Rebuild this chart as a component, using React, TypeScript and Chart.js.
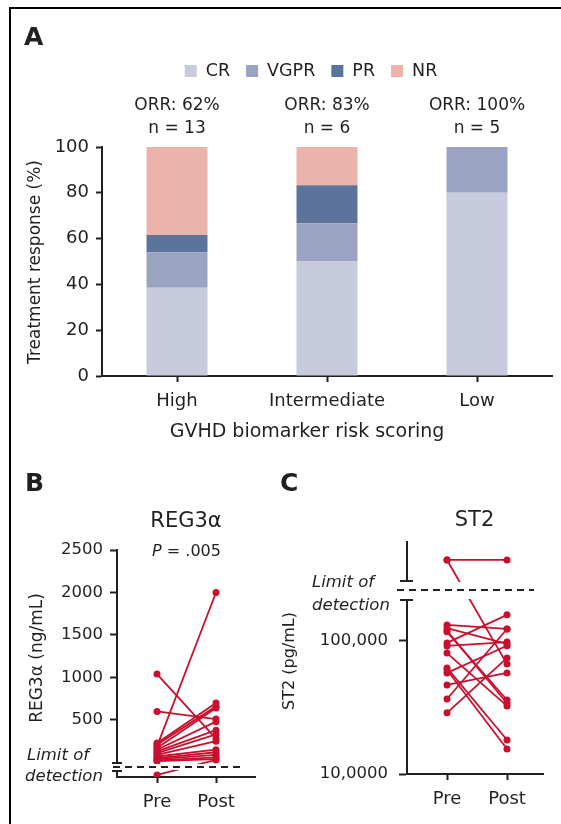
import React, { useEffect, useRef } from "react";
import { Chart, registerables } from "chart.js";
Chart.register(...registerables);

const FONT = "'DejaVu Sans', sans-serif";
const INK = "#231f20";
const RED = "#c8102e";

// ---------- Panel A data ----------
const riskGroups = ["High", "Intermediate", "Low"];
const responseNames = ["CR", "VGPR", "PR", "NR"];
const responseColors = ["#c8cbdd", "#9aa3c1", "#5c749c", "#ebb3a9"];
const crPct = [38.5, 50.0, 80.0];
const vgprPct = [15.4, 16.7, 20.0];
const prPct = [7.7, 16.6, 0];
const nrPct = [38.4, 16.7, 0];
const orrText = ["ORR: 62%", "ORR: 83%", "ORR: 100%"];
const nText = ["n = 13", "n = 6", "n = 5"];
const pctTicks = [0, 20, 40, 60, 80, 100];

// ---------- Panel B data (REG3α, ng/mL) ----------
const timepoints = ["Pre", "Post"];
const reg3Pre = [1040, 600, 190, 230, 210, 170, 150, 130, 110, 90, 70, 50, 40, 25, 15, -147];
const reg3Post = [280, 510, 2000, 700, 660, 640, 480, 380, 330, 250, 150, 120, 90, 60, 40, 30];
const reg3Ticks = [500, 1000, 1500, 2000, 2500];
const reg3Min = -171;
const reg3Max = 2500;
const reg3BreakTop = -6;
const reg3BreakBottom = -100;
const reg3Lod = -53;

// ---------- Panel C data (ST2, pg/mL) ----------
const st2Pre = [406000, 406000, 132000, 125000, 119000, 117000, 96600, 91700, 81000, 62700, 60500, 57500, 46700, 36600, 28800];
const st2Post = [406000, 67000, 123000, 95000, 34000, 36000, 157000, 98000, 32500, 18000, 15400, 92000, 57500, 123000, 74500];
const st2Ticks = [10000, 100000];
const st2TickLabels = ["10,0000", "100,000"];
const st2Min = 10000;
const st2Max = 554000;
const st2BreakTop = 282500;
const st2BreakBottom = 203000;
const st2Lod = 241600;

type TextItem = {
  parts: { text: string; style?: string }[];
  x: number;
  y: number;
  size: number;
  weight?: string;
  align?: "left" | "center" | "right";
  rotate?: number;
};

function fontStr(size: number, weight = "normal", style = "normal") {
  return `${style} ${weight} ${size}px ${FONT}`;
}

function textPlugin(getItems: (chart: any) => TextItem[]) {
  return {
    id: "texts",
    afterDraw(chart: any) {
      const ctx = chart.ctx;
      for (const it of getItems(chart)) {
        ctx.save();
        ctx.fillStyle = INK;
        ctx.textBaseline = "middle";
        ctx.textAlign = "left";
        ctx.translate(it.x, it.y);
        if (it.rotate) ctx.rotate(it.rotate);
        let total = 0;
        const widths = it.parts.map((p) => {
          ctx.font = fontStr(it.size, it.weight, p.style);
          const w = ctx.measureText(p.text).width;
          total += w;
          return w;
        });
        let x = it.align === "left" ? 0 : it.align === "right" ? -total : -total / 2;
        it.parts.forEach((p, i) => {
          ctx.font = fontStr(it.size, it.weight, p.style);
          ctx.fillText(p.text, x, 0);
          x += widths[i];
        });
        ctx.restore();
      }
    },
  };
}

const t = (text: string, x: number, y: number, size: number, extra: Partial<TextItem> = {}): TextItem => ({
  parts: [{ text }],
  x,
  y,
  size,
  ...extra,
});

const legendPlugin = {
  id: "customLegend",
  afterDraw(chart: any) {
    const ctx = chart.ctx;
    const size = 17.5;
    ctx.save();
    ctx.font = fontStr(size);
    const box = 12;
    const gapBox = 9;
    const gapItem = 16;
    const ds = chart.data.datasets;
    const widths = ds.map((d: any) => ctx.measureText(d.label).width);
    const total = widths.reduce((a: number, w: number) => a + box + gapBox + w, 0) + gapItem * (ds.length - 1);
    let x = 311 - total / 2;
    const cy = 71;
    ctx.textBaseline = "middle";
    ctx.textAlign = "left";
    ds.forEach((d: any, i: number) => {
      ctx.fillStyle = d.backgroundColor;
      ctx.fillRect(x, cy - box / 2, box, box);
      x += box + gapBox;
      ctx.fillStyle = INK;
      ctx.fillText(d.label, x, cy);
      x += widths[i] + gapItem;
    });
    ctx.restore();
  },
};

function breakPlugin(opts: {
  top: number;
  bottom: number;
  lod: number;
  tickX0: number;
  tickX1: number;
  dashX0: number;
  dashX1: number;
}) {
  return {
    id: "axisBreak",
    afterDatasetsDraw(chart: any) {
      const { ctx, chartArea } = chart;
      const y = chart.scales.y;
      const yTop = y.getPixelForValue(opts.top);
      const yBot = y.getPixelForValue(opts.bottom);
      const yLod = y.getPixelForValue(opts.lod);
      ctx.save();
      ctx.fillStyle = "#ffffff";
      ctx.fillRect(chartArea.left - 3, yTop + 1, chartArea.right - chartArea.left + 6, yBot - yTop - 2);
      ctx.strokeStyle = INK;
      ctx.lineWidth = 2;
      ctx.beginPath();
      ctx.moveTo(opts.tickX0, yTop);
      ctx.lineTo(opts.tickX1, yTop);
      ctx.moveTo(opts.tickX0, yBot);
      ctx.lineTo(opts.tickX1, yBot);
      ctx.stroke();
      ctx.setLineDash([7, 5]);
      ctx.beginPath();
      ctx.moveTo(opts.dashX0, yLod);
      ctx.lineTo(opts.dashX1, yLod);
      ctx.stroke();
      ctx.restore();
    },
  };
}

function pairedDatasets(pre: number[], post: number[]) {
  return pre.map((v, i) => ({
    label: "s" + i,
    data: [
      { x: 1, y: v },
      { x: 2, y: post[i] },
    ],
    borderColor: RED,
    backgroundColor: RED,
    borderWidth: 1.8,
    pointRadius: 3.5,
    pointBorderWidth: 0,
    pointBackgroundColor: RED,
    tension: 0,
  }));
}

const axisCommon = (tickLength: number) => ({
  grid: { display: true, drawOnChartArea: false, offset: false, tickLength, tickWidth: 2, tickColor: INK },
  border: { display: true, color: INK, width: 2 },
});

export default function App() {
  const aRef = useRef<HTMLCanvasElement>(null);
  const bRef = useRef<HTMLCanvasElement>(null);
  const cRef = useRef<HTMLCanvasElement>(null);

  useEffect(() => {
    const charts: Chart[] = [];

    // ----- Panel A -----
    const seriesA = [crPct, vgprPct, prPct, nrPct];
    charts.push(
      new Chart(aRef.current!, {
        type: "bar",
        data: {
          labels: riskGroups,
          datasets: responseNames.map((n, i) => ({
            label: n,
            data: seriesA[i],
            backgroundColor: responseColors[i],
            borderWidth: 0,
            barPercentage: 1,
            categoryPercentage: 61 / 150,
          })),
        },
        options: {
          animation: false,
          responsive: false,
          devicePixelRatio: 1,
          layout: { padding: { top: 147, right: 9, left: 0, bottom: 0 } },
          plugins: { legend: { display: false }, tooltip: { enabled: false } },
          scales: {
            x: {
              stacked: true,
              ...axisCommon(6),
              ticks: { color: INK, font: { family: FONT, size: 18 }, padding: 9, maxRotation: 0 },
              afterFit: (s: any) => {
                s.height = 84;
              },
            } as any,
            y: {
              stacked: true,
              min: 0,
              max: 100,
              ...axisCommon(6),
              ticks: { color: INK, font: { family: FONT, size: 18 }, padding: 7 },
              afterBuildTicks: (s: any) => {
                s.ticks = pctTicks.map((v) => ({ value: v }));
              },
              afterFit: (s: any) => {
                s.width = 102;
              },
            } as any,
          },
        },
        plugins: [
          legendPlugin,
          textPlugin((chart: any) => {
            const x = chart.scales.x;
            const items: TextItem[] = [
              t("A", 24, 38, 25, { weight: "bold", align: "left" }),
              t("Treatment response (%)", 36, 262, 17, { rotate: -Math.PI / 2 }),
              t("GVHD biomarker risk scoring", 307, 432, 19),
            ];
            riskGroups.forEach((_, i) => {
              const px = x.getPixelForValue(i);
              items.push(t(orrText[i], px, 106, 17));
              items.push(t(nText[i], px, 128.5, 17));
            });
            return items;
          }),
        ],
      })
    );

    // ----- Panel B -----
    charts.push(
      new Chart(bRef.current!, {
        type: "line",
        data: { datasets: pairedDatasets(reg3Pre, reg3Post) as any },
        options: {
          animation: false,
          responsive: false,
          devicePixelRatio: 1,
          layout: { padding: { top: 90, right: 25, left: 0, bottom: 0 } },
          plugins: { legend: { display: false }, tooltip: { enabled: false } },
          scales: {
            x: {
              type: "linear",
              min: 0.322,
              max: 2.661,
              ...axisCommon(6),
              ticks: {
                color: INK,
                font: { family: FONT, size: 18 },
                padding: 9,
                maxRotation: 0,
                callback: (v: any) => timepoints[Number(v) - 1] ?? "",
              },
              afterBuildTicks: (s: any) => {
                s.ticks = [{ value: 1 }, { value: 2 }];
              },
              afterFit: (s: any) => {
                s.height = 47;
              },
            } as any,
            y: {
              type: "linear",
              min: reg3Min,
              max: reg3Max,
              ...axisCommon(7),
              ticks: {
                color: INK,
                font: { family: FONT, size: 16.5 },
                padding: 7,
                callback: (v: any) => String(v),
              },
              afterBuildTicks: (s: any) => {
                s.ticks = reg3Ticks.map((v) => ({ value: v }));
              },
              afterFit: (s: any) => {
                s.width = 117;
              },
            } as any,
          },
        },
        plugins: [
          breakPlugin({
            top: reg3BreakTop,
            bottom: reg3BreakBottom,
            lod: reg3Lod,
            tickX0: 112,
            tickX1: 122,
            dashX0: 113,
            dashX1: 243,
          }),
          textPlugin(() => [
            t("B", 25, 24, 25, { weight: "bold", align: "left" }),
            t("REG3α", 186, 62, 21),
            { parts: [{ text: "P", style: "italic" }, { text: " = .005" }], x: 186.5, y: 92, size: 16 },
            t("REG3α (ng/mL)", 37.5, 198, 17, { rotate: -Math.PI / 2 }),
            { parts: [{ text: "Limit of", style: "italic" }], x: 27, y: 296, size: 16.5, align: "left" },
            { parts: [{ text: "detection", style: "italic" }], x: 25, y: 317, size: 16.5, align: "left" },
          ]),
        ],
      })
    );

    // ----- Panel C -----
    charts.push(
      new Chart(cRef.current!, {
        type: "line",
        data: { datasets: pairedDatasets(st2Pre, st2Post) as any },
        options: {
          animation: false,
          responsive: false,
          devicePixelRatio: 1,
          layout: { padding: { top: 82, right: 18, left: 0, bottom: 0 } },
          plugins: { legend: { display: false }, tooltip: { enabled: false } },
          scales: {
            x: {
              type: "linear",
              min: 0.333,
              max: 2.6,
              ...axisCommon(6),
              ticks: {
                color: INK,
                font: { family: FONT, size: 18 },
                padding: 9,
                maxRotation: 0,
                callback: (v: any) => timepoints[Number(v) - 1] ?? "",
              },
              afterBuildTicks: (s: any) => {
                s.ticks = [{ value: 1 }, { value: 2 }];
              },
              afterFit: (s: any) => {
                s.height = 50;
              },
            } as any,
            y: {
              type: "logarithmic",
              min: st2Min,
              max: st2Max,
              ...axisCommon(8),
              ticks: {
                color: INK,
                font: { family: FONT, size: 16.5 },
                padding: 11,
                callback: (v: any) => {
                  const i = st2Ticks.indexOf(Number(v));
                  return i >= 0 ? st2TickLabels[i] : "";
                },
              },
              afterBuildTicks: (s: any) => {
                s.ticks = st2Ticks.map((v) => ({ value: v }));
              },
              afterFit: (s: any) => {
                s.width = 127;
              },
            } as any,
          },
        },
        plugins: [
          breakPlugin({
            top: st2BreakTop,
            bottom: st2BreakBottom,
            lod: st2Lod,
            tickX0: 120,
            tickX1: 133,
            dashX0: 117,
            dashX1: 254,
          }),
          textPlugin(() => [
            t("C", 0, 24, 25, { weight: "bold", align: "left" }),
            t("ST2", 194.5, 61, 21),
            t("ST2 (pg/mL)", 10, 201, 16, { rotate: -Math.PI / 2 }),
            { parts: [{ text: "Limit of", style: "italic" }], x: 32, y: 123, size: 16.5, align: "left" },
            { parts: [{ text: "detection", style: "italic" }], x: 32, y: 146, size: 16.5, align: "left" },
          ]),
        ],
      })
    );

    return () => charts.forEach((c) => c.destroy());
  }, []);

  return (
    <div style={{ position: "absolute", left: 0, top: 0, width: 561, height: 824, background: "#fff", overflow: "hidden" }}>
      <div
        style={{
          position: "absolute",
          left: 9,
          top: 7,
          width: 600,
          height: 900,
          borderLeft: `2px solid #000`,
          borderTop: `2px solid #000`,
        }}
      />
      <canvas ref={aRef} width={561} height={460} style={{ position: "absolute", left: 0, top: 0, width: 561, height: 460 }} />
      <canvas ref={bRef} width={280} height={364} style={{ position: "absolute", left: 0, top: 460, width: 280, height: 364 }} />
      <canvas ref={cRef} width={281} height={364} style={{ position: "absolute", left: 280, top: 460, width: 281, height: 364 }} />
    </div>
  );
}
